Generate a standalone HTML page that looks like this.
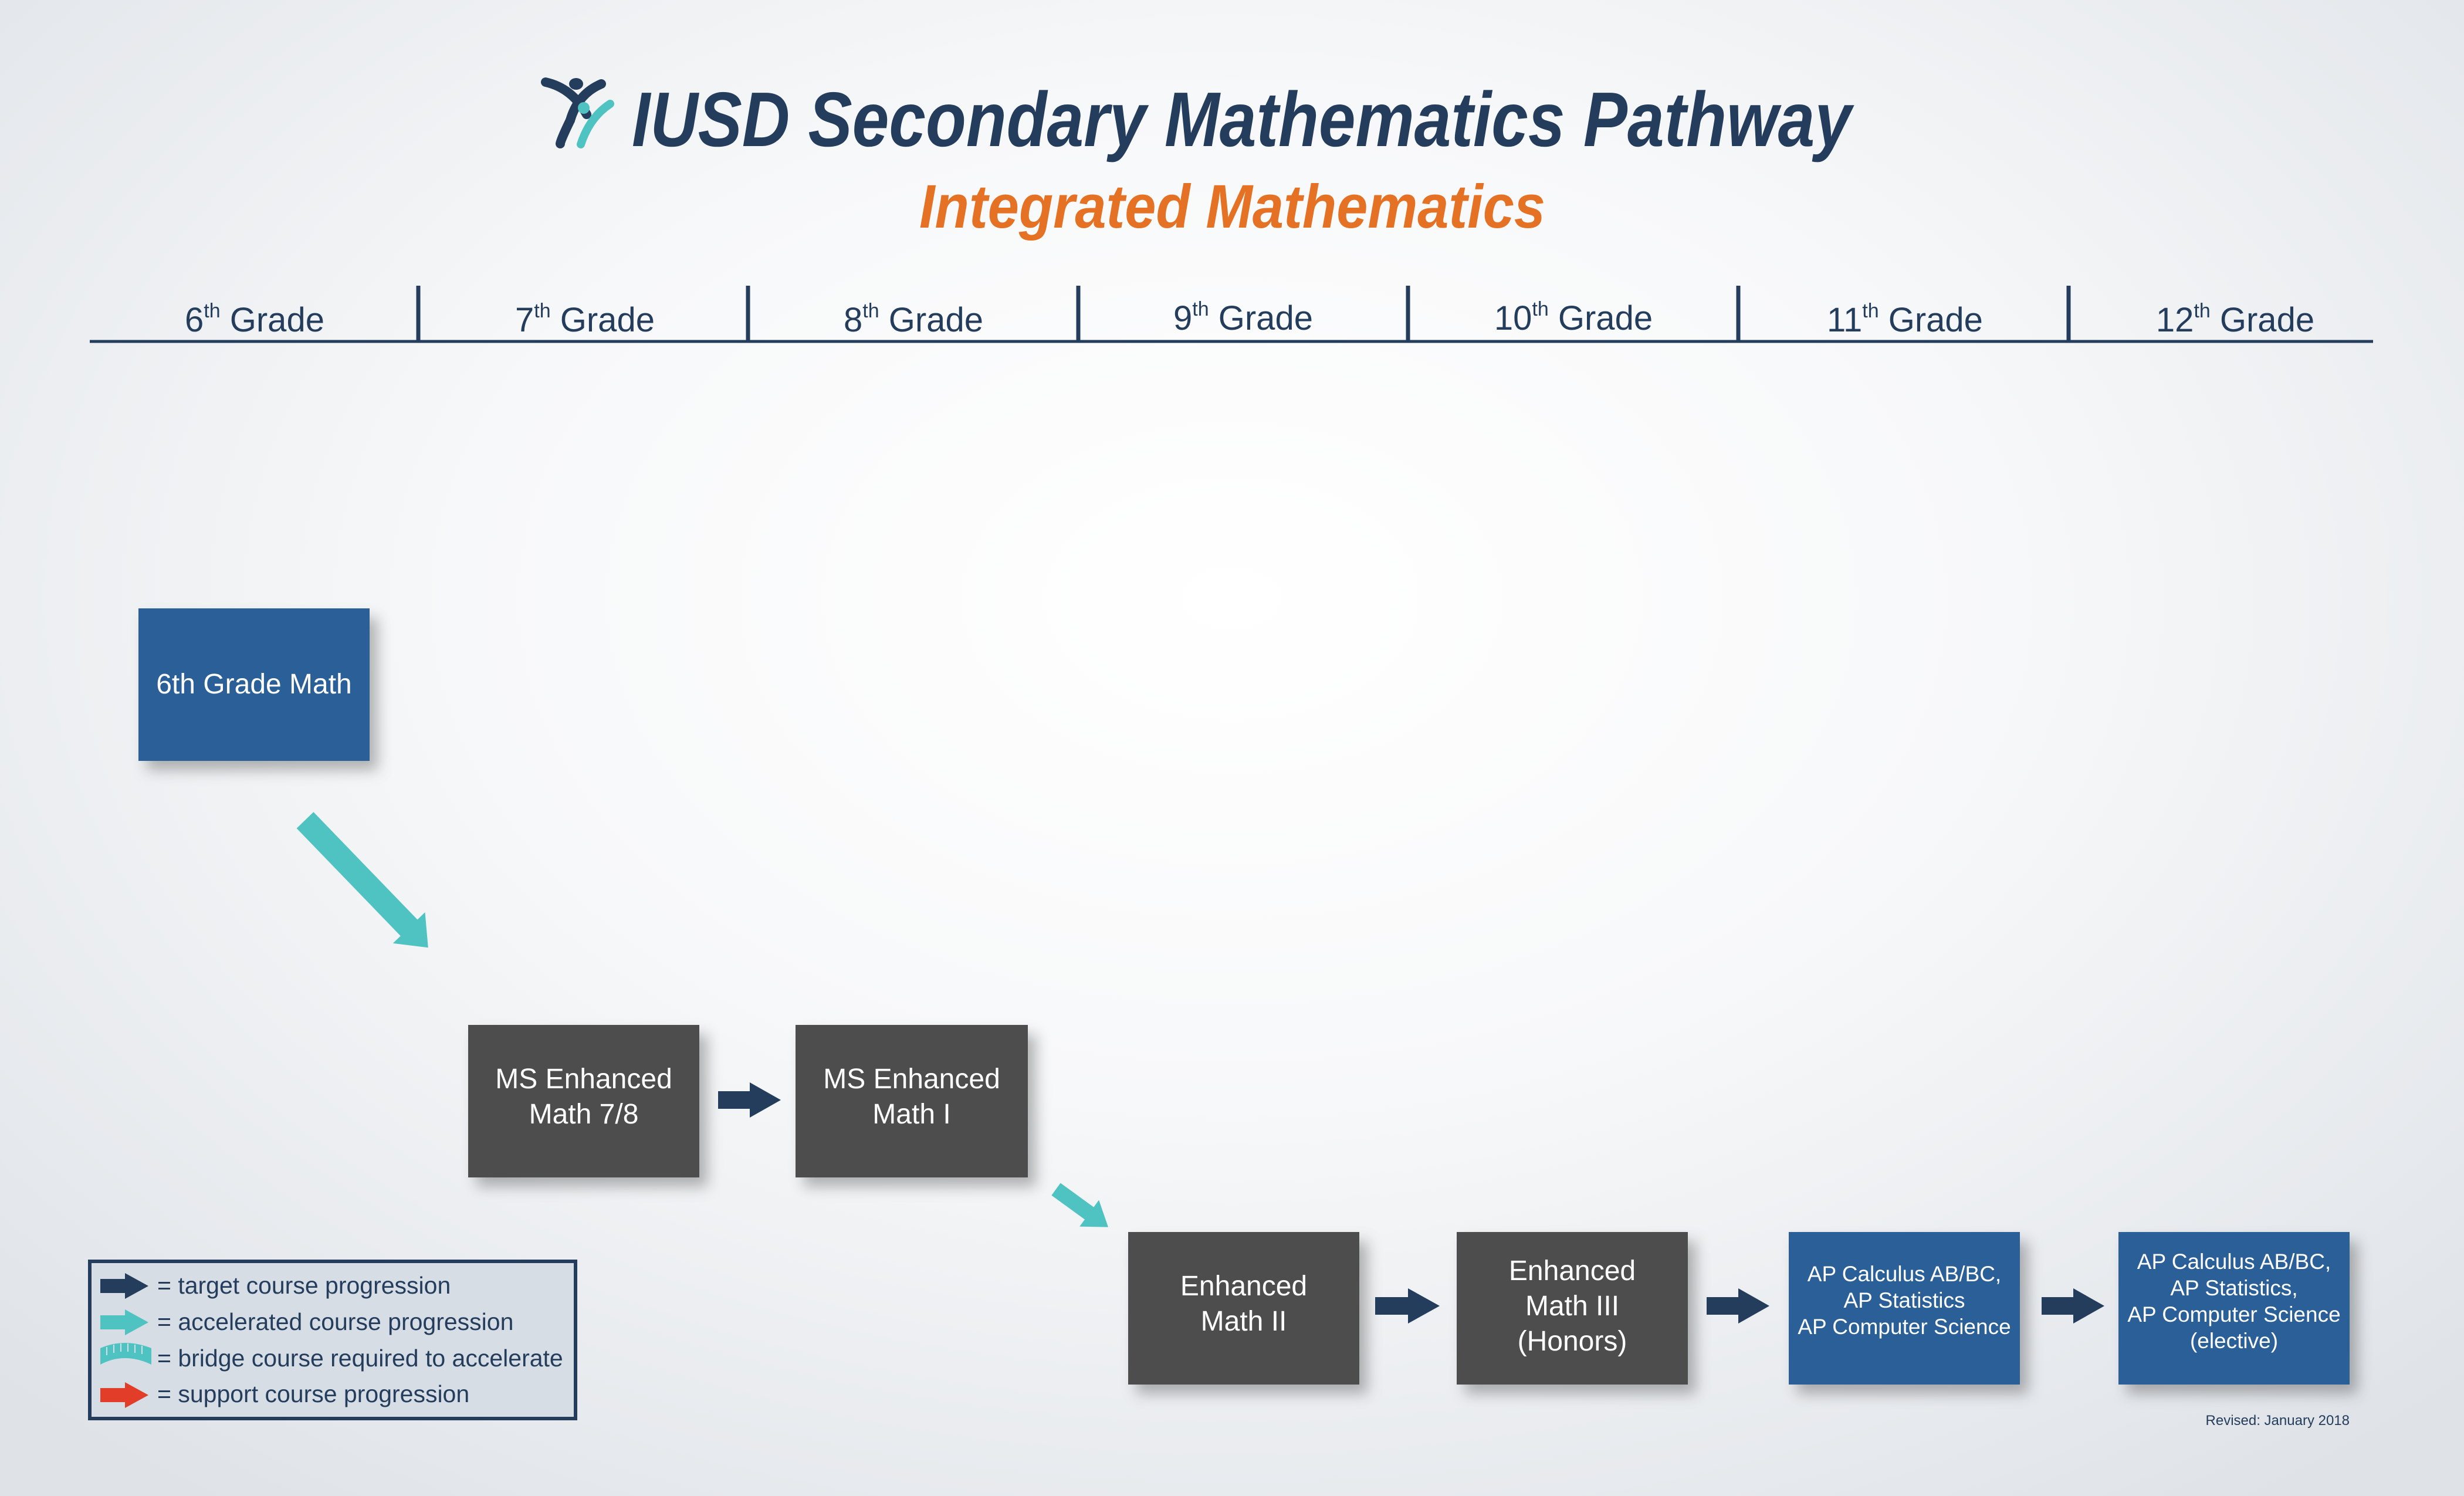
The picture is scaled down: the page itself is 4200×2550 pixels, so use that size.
<!DOCTYPE html>
<html><head><meta charset="utf-8"><style>
html,body{margin:0;padding:0;width:4200px;height:2550px;overflow:hidden}
body{background:radial-gradient(ellipse 70% 75% at 50% 40%,#ffffff 0%,#f7f8f9 45%,#dfe3e8 100%)}
svg{position:absolute;left:0;top:0}
text{font-family:"Liberation Sans",sans-serif}
</style></head><body>
<svg width="4200" height="2550" viewBox="0 0 4200 2550" xmlns="http://www.w3.org/2000/svg">
<defs>
<filter id="sh" x="-20%" y="-20%" width="150%" height="150%"><feDropShadow dx="14" dy="16" stdDeviation="12" flood-color="#000" flood-opacity="0.28"/></filter>
</defs>
<!-- logo -->
<g>
<path d="M930 140 Q975 150 1000 195" stroke="#243d5c" stroke-width="16" fill="none" stroke-linecap="round"/>
<path d="M1025 143 Q985 160 972 205" stroke="#243d5c" stroke-width="16" fill="none" stroke-linecap="round"/>
<path d="M972 205 Q955 240 955 245" stroke="#243d5c" stroke-width="16" fill="none" stroke-linecap="round"/>
<ellipse cx="982" cy="143" rx="12" ry="10" fill="#243d5c"/>
<path d="M1040 177 Q1005 200 990 246" stroke="#4fc3c2" stroke-width="14" fill="none" stroke-linecap="round"/>
<circle cx="995" cy="184" r="10" fill="#4fc3c2"/>
</g>
<text x="1077" y="249" font-size="132" font-weight="bold" font-style="italic" fill="#243d5c" textLength="2079" lengthAdjust="spacingAndGlyphs">IUSD Secondary Mathematics Pathway</text>
<text x="1567" y="388" font-size="105" font-weight="bold" font-style="italic" fill="#e47124" textLength="1067" lengthAdjust="spacingAndGlyphs">Integrated Mathematics</text>
<!-- grade header -->
<line x1="153" y1="582" x2="4045" y2="582" stroke="#243d5c" stroke-width="5"/>
<g stroke="#243d5c" stroke-width="7">
<line x1="713" y1="487" x2="713" y2="582"/><line x1="1275" y1="487" x2="1275" y2="582"/><line x1="1838" y1="487" x2="1838" y2="582"/><line x1="2400" y1="487" x2="2400" y2="582"/><line x1="2963" y1="487" x2="2963" y2="582"/><line x1="3526" y1="487" x2="3526" y2="582"/>
</g>
<g font-size="58" fill="#243d5c" text-anchor="middle">
<text x="434" y="565">6<tspan font-size="34" dy="-24">th</tspan><tspan dy="24"> Grade</tspan></text>
<text x="997" y="565">7<tspan font-size="34" dy="-24">th</tspan><tspan dy="24"> Grade</tspan></text>
<text x="1557" y="565">8<tspan font-size="34" dy="-24">th</tspan><tspan dy="24"> Grade</tspan></text>
<text x="2119" y="562">9<tspan font-size="34" dy="-24">th</tspan><tspan dy="24"> Grade</tspan></text>
<text x="2682" y="562">10<tspan font-size="34" dy="-24">th</tspan><tspan dy="24"> Grade</tspan></text>
<text x="3247" y="565">11<tspan font-size="34" dy="-24">th</tspan><tspan dy="24"> Grade</tspan></text>
<text x="3810" y="565">12<tspan font-size="34" dy="-24">th</tspan><tspan dy="24"> Grade</tspan></text>
</g>
<!-- boxes -->
<g filter="url(#sh)">
<rect x="236" y="1037" width="394" height="260" fill="#2b5f98"/>
<rect x="798" y="1747" width="394" height="260" fill="#4d4d4d"/>
<rect x="1356" y="1747" width="396" height="260" fill="#4d4d4d"/>
<rect x="1923" y="2100" width="394" height="260" fill="#4d4d4d"/>
<rect x="2483" y="2100" width="394" height="260" fill="#4d4d4d"/>
<rect x="3049" y="2100" width="394" height="260" fill="#2b5f98"/>
<rect x="3611" y="2100" width="394" height="260" fill="#2b5f98"/>
</g>
<g fill="#fff" text-anchor="middle" font-size="48">
<text x="433" y="1182">6th Grade Math</text>
<text x="995" y="1855">MS Enhanced</text><text x="995" y="1915">Math 7/8</text>
<text x="1554" y="1855">MS Enhanced</text><text x="1554" y="1915">Math I</text>
<text x="2120" y="2208">Enhanced</text><text x="2120" y="2268">Math II</text>
<text x="2680" y="2182">Enhanced</text><text x="2680" y="2242">Math III</text><text x="2680" y="2302">(Honors)</text>
</g>
<g fill="#fff" text-anchor="middle" font-size="37">
<text x="3246" y="2184">AP Calculus AB/BC,</text><text x="3246" y="2229">AP Statistics</text><text x="3246" y="2274">AP Computer Science</text>
<text x="3808" y="2163">AP Calculus AB/BC,</text><text x="3808" y="2208">AP Statistics,</text><text x="3808" y="2253">AP Computer Science</text><text x="3808" y="2298">(elective)</text>
</g>
<!-- dark arrows -->
<g fill="#243d5c">
<polygon points="1224,1860 1278,1860 1278,1845 1331,1875 1278,1905 1278,1890 1224,1890"/>
<polygon points="2344,2211 2400,2211 2400,2196 2454,2226 2400,2256 2400,2241 2344,2241"/>
<polygon points="2909,2211 2963,2211 2963,2196 3016,2226 2963,2256 2963,2241 2909,2241"/>
<polygon points="3480,2211 3534,2211 3534,2196 3587,2226 3534,2256 3534,2241 3480,2241"/>
</g>
<!-- teal arrows -->
<g fill="#4fc3c2">
<polygon points="0,-20 255,-20 255,-38 302,0 255,38 255,20 0,20" transform="translate(520,1398) rotate(46)"/>
<polygon points="0,-13 70,-13 70,-28 110,0 70,28 70,13 0,13" transform="translate(1800,2027) rotate(36)"/>
</g>
<!-- legend -->
<rect x="153" y="2150" width="828" height="268" fill="#d6dde4" stroke="#243d5c" stroke-width="6"/>
<polygon points="171,2180 213,2180 213,2170 253,2192 213,2214 213,2204 171,2204" fill="#243d5c"/>
<polygon points="171,2242 213,2242 213,2232 253,2254 213,2276 213,2266 171,2266" fill="#4fc3c2"/>
<path d="M171,2298 Q212,2280 258,2298 L258,2326 Q212,2304 171,2326 Z" fill="#4fc3c2"/>
<g stroke="#d6dde4" stroke-width="2"><line x1="182" y1="2296" x2="182" y2="2310"/><line x1="194" y1="2292" x2="194" y2="2306"/><line x1="206" y1="2290" x2="206" y2="2304"/><line x1="218" y1="2290" x2="218" y2="2304"/><line x1="230" y1="2292" x2="230" y2="2306"/><line x1="242" y1="2294" x2="242" y2="2308"/></g>
<polygon points="171,2366 213,2366 213,2356 253,2378 213,2400 213,2390 171,2390" fill="#e13d28"/>
<g font-size="41" fill="#243d5c">
<text x="268" y="2205">= target course progression</text>
<text x="268" y="2267">= accelerated course progression</text>
<text x="268" y="2329">= bridge course required to accelerate</text>
<text x="268" y="2390">= support course progression</text>
</g>
<text x="4005" y="2429" font-size="24" fill="#243d5c" text-anchor="end">Revised: January 2018</text>
</svg>
</body></html>
